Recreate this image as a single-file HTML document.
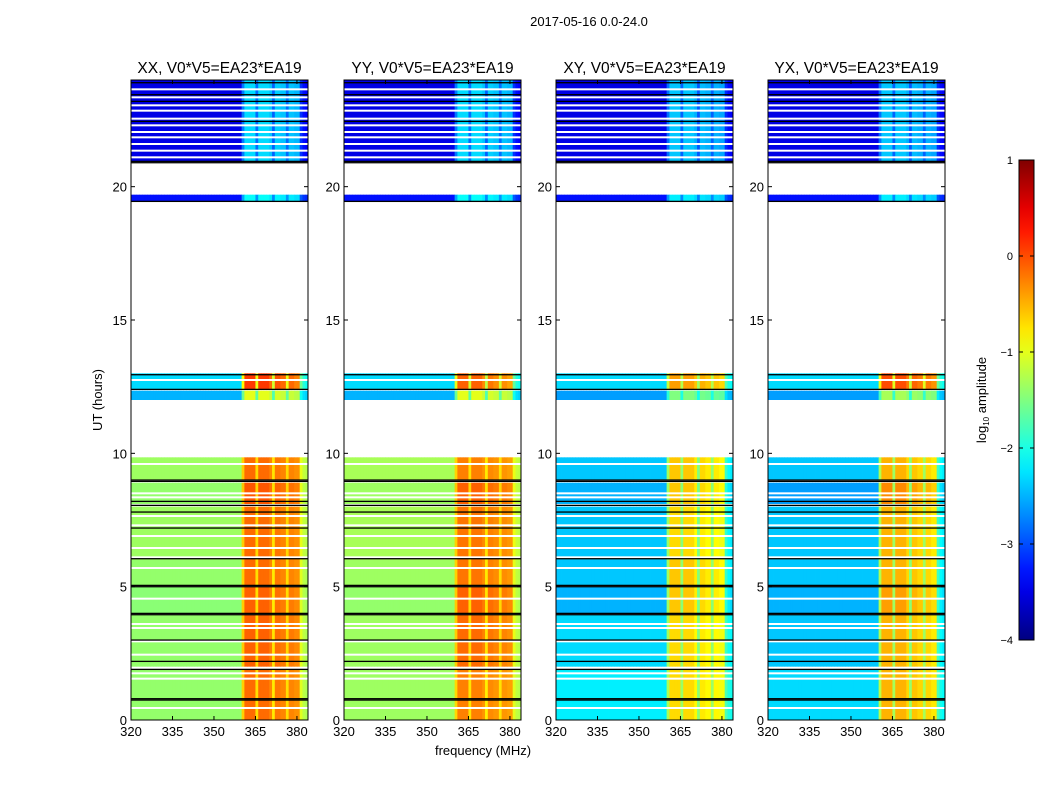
<!DOCTYPE html>
<html><head><meta charset="utf-8"><style>
body{margin:0;background:#fff;}
svg text{font-family:"Liberation Sans",sans-serif;fill:#000;}
</style></head><body>
<svg id="fig" width="1050" height="800" viewBox="0 0 1050 800" xmlns="http://www.w3.org/2000/svg">
<rect width="1050" height="800" fill="#fff"/>
<text x="589" y="26" font-size="13" text-anchor="middle">2017-05-16 0.0-24.0</text>
<text x="483" y="755" font-size="13" text-anchor="middle">frequency (MHz)</text>
<text transform="translate(102,400) rotate(-90)" font-size="13" text-anchor="middle">UT (hours)</text>
<g id="panels"></g>
<g id="cbar"></g>
</svg>
<script>
// ---- data ----
const panelNames = ["XX, V0*V5=EA23*EA19","YY, V0*V5=EA23*EA19","XY, V0*V5=EA23*EA19","YX, V0*V5=EA23*EA19"];
const xTicks = [320,335,350,365,380];
const yTicks = [0,5,10,15,20];
const cbTicks = [1,0,-1,-2,-3,-4];
// time segments with data (hours)
const segStart = [0.0, 2.0, 4.0, 5.05, 6.0, 8.1, 9.0, 12.0, 12.4, 19.45, 20.95];
const segEnd   = [1.9, 3.95, 5.0, 6.0, 8.0, 8.9, 9.85, 12.35, 13.0, 19.7, 24.0];
// log10 amplitude outside / inside the RFI band per panel per segment
const xxOut = [-1.4,-1.4,-1.45,-1.4,-1.35,-1.4,-1.35,-2.5,-2.3,-3.3,-3.5];
const xxIn  = [-0.15,-0.1,-0.1,-0.15,-0.15,-0.05,-0.15,-1.0,0.1,-2.1,-2.3];
const yyOut = [-1.35,-1.35,-1.4,-1.35,-1.3,-1.35,-1.3,-2.5,-2.3,-3.3,-3.5];
const yyIn  = [-0.25,-0.15,-0.1,-0.2,-0.2,-0.1,-0.25,-1.0,-0.1,-2.1,-2.3];
const xyOut = [-2.2,-2.3,-2.5,-2.4,-2.4,-2.5,-2.4,-2.6,-2.3,-3.3,-3.5];
const xyIn  = [-0.7,-0.7,-0.6,-0.6,-0.7,-0.6,-0.6,-1.5,-0.4,-2.2,-2.4];
const yxOut = [-2.3,-2.4,-2.5,-2.4,-2.4,-2.6,-2.4,-2.6,-2.3,-3.3,-3.5];
const yxIn  = [-0.5,-0.5,-0.4,-0.5,-0.5,-0.3,-0.5,-1.3,0.0,-2.2,-2.4];
// frequency profile: fraction of band excess per 1-MHz channel starting at 320
const freqStart = 320;
const colShade = [0,0,0,0,0,0,0,0,0,0, 0,0,0,0,0,0,0,0,0,0,
                  0,0,0,0,0,0,0,0,0,0, 0,0,0,0,0,0,0,0,0,0,
                  0.6,1,1,1,1,0.55,1,1,1,1, 0.9,0.5,0.95,0.95,0.9,0.9,0.55,0.9,0.9,0.85,
                  0.85,0.3,0.15,0.1];
// flagged (white) and black rows, hours
const whiteLines = [0.45,1.55,1.75,2.45,2.95,3.45,3.6,4.55,5.7,6.1,6.45,6.9,7.3,7.65,8.35,8.5,9.6,12.75,21.1,21.35,21.6,21.85,22.05,22.3,22.55,22.85,23.05,23.35,23.65];
const blackLines = [0.75,0.8,1.9,2.2,3.0,3.95,4.0,5.0,5.05,6.05,7.2,7.8,8.05,8.2,8.95,9.0,12.4,12.95,19.45,20.9,20.95,22.45,23.2,23.45,23.9];
const panelData = [[xxOut,xxIn],[yyOut,yyIn],[xyOut,xyIn],[yxOut,yxIn]];

// ---- layout ----
const panelLeft = [131,344,556,768], pw = 177, plotTop = 80, plotBottom = 720;
const fmin = 320, fmax = 384, tmin = 0, tmax = 24;
const xs = (L,f)=> L + (f-fmin)/(fmax-fmin)*pw;
const ys = t => plotBottom - (t-tmin)/(tmax-tmin)*(plotBottom-plotTop);
function jet(v){
  let x=(v+4)/5; x=Math.max(0,Math.min(1,x));
  const c=t=>Math.round(255*Math.max(0,Math.min(1,t)));
  const r=c(Math.min(4*x-1.5,-4*x+4.5)), g=c(Math.min(4*x-0.5,-4*x+3.5)), b=c(Math.min(4*x+0.5,-4*x+2.5));
  return `rgb(${r},${g},${b})`;
}
const NS="http://www.w3.org/2000/svg";
function mk(tag,attrs,parent){const e=document.createElementNS(NS,tag);for(const k in attrs)e.setAttribute(k,attrs[k]);parent.appendChild(e);return e;}
const G=document.getElementById('panels');
panelNames.forEach((name,p)=>{
  const L=panelLeft[p];
  const g=mk('g',{},G);
  
  
  const [outA,inA]=panelData[p];
  segStart.forEach((s,i)=>{
    colShade.forEach((sh,j)=>{
      const f=freqStart+j, v=outA[i]+(inA[i]-outA[i])*sh;
      const r=mk('rect',{x:xs(L,f).toFixed(2),y:ys(segEnd[i]).toFixed(2),width:(pw/64+0.4).toFixed(2),height:(ys(s)-ys(segEnd[i])).toFixed(2),fill:jet(v)},g);
      
      
    });
  });
  whiteLines.forEach(t=>{
    const r=mk('rect',{x:L,y:ys(t)-1,width:pw,height:2,fill:'#fff'},g);
    
    
  });
  blackLines.forEach(t=>{
    const r=mk('rect',{x:L,y:ys(t)-0.6,width:pw,height:1.3,fill:'#000'},g);
    
    
  });
  const fr=mk('rect',{x:L,y:plotTop,width:pw,height:plotBottom-plotTop,fill:'none',stroke:'#000','stroke-width':1},g);
  
  
  const tt=mk('text',{x:L+pw/2,y:plotTop-7,'font-size':15.5,'text-anchor':'middle'},g);tt.textContent=name;
  
  
  xTicks.forEach(f=>{
    const x=xs(L,f);
    mk('line',{x1:x,x2:x,y1:plotBottom,y2:plotBottom-4,stroke:'#000'},g);
    mk('line',{x1:x,x2:x,y1:plotTop,y2:plotTop+4,stroke:'#000'},g);
    const t=mk('text',{x:x,y:plotBottom+16,'font-size':13,'text-anchor':'middle'},g);t.textContent=f;
    
    
  });
  yTicks.forEach(h=>{
    const y=ys(h);
    mk('line',{x1:L,x2:L+4,y1:y,y2:y,stroke:'#000'},g);
    mk('line',{x1:L+pw,x2:L+pw-4,y1:y,y2:y,stroke:'#000'},g);
    const t=mk('text',{x:L-4,y:y+5,'font-size':13,'text-anchor':'end'},g);t.textContent=h;
    
    
  });
});
// colorbar
const C=document.getElementById('cbar');


const defs=mk('defs',{},C);
const lg=mk('linearGradient',{id:'jetg',x1:0,y1:1,x2:0,y2:0},defs);
for(let k=0;k<=20;k++){mk('stop',{offset:k/20,'stop-color':jet(-4+5*k/20)},lg);}
const cbT=160,cbB=640,cbL=1019,cbW=15;
mk('rect',{x:cbL,y:cbT,width:cbW,height:cbB-cbT,fill:'url(#jetg)',stroke:'#000','stroke-width':1},C);
cbTicks.forEach(v=>{
  const y=cbB-(v+4)/5*(cbB-cbT);
  mk('line',{x1:cbL,x2:cbL+4,y1:y,y2:y,stroke:'#000'},C);
  mk('line',{x1:cbL+cbW,x2:cbL+cbW-4,y1:y,y2:y,stroke:'#000'},C);
  const t=mk('text',{x:1013,y:y+4,'font-size':11,'text-anchor':'end'},C);t.textContent=(v<0?'\u2212'+(-v):v);
  
  
});
const cl=mk('text',{transform:'translate(986,400) rotate(-90)','font-size':13,'text-anchor':'middle'},C);
cl.innerHTML='log<tspan font-size="8" dy="3">10</tspan><tspan dy="-3"> amplitude</tspan>';


</script>
</body></html>
